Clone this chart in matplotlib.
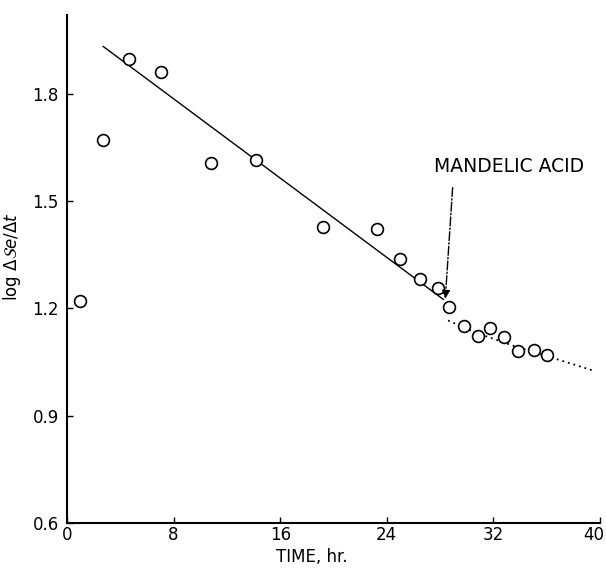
import matplotlib
matplotlib.use('Agg')
import matplotlib.pyplot as plt
import matplotlib.transforms as mtransforms

# data
time_hr = [0.97, 2.67, 4.62, 7.09, 10.84, 14.16, 19.23, 23.27, 24.97, 26.52,
           27.81, 28.69, 29.76, 30.81, 31.76, 32.79, 33.86, 35.03, 36.05]
log_rate = [1.22, 1.671, 1.896, 1.860, 1.605, 1.615, 1.428, 1.421, 1.339, 1.281,
            1.256, 1.203, 1.152, 1.122, 1.146, 1.120, 1.081, 1.084, 1.071]

fit_t = [2.72, 28.24]
fit_y = [1.932, 1.225]

tail_t = [28.6, 30.75, 34.0, 36.5, 39.4]
tail_y = [1.166, 1.131, 1.089, 1.061, 1.027]

arrow_start = (28.94, 1.5375)
arrow_tip = (28.39, 1.227)
label_pos = (33.15, 1.596)

xticks = [0, 8, 16, 24, 32, 40]
yticks = [0.6, 0.9, 1.2, 1.5, 1.8]

fig = plt.figure(figsize=(6.06, 5.69), dpi=100)
ax = fig.add_axes([67/606, 46/569, 533/606, 508/569])

ax.plot(fit_t, fit_y, color='k', lw=1.0)
ax.plot(tail_t, tail_y, color='k', lw=1.3, ls=(0, (1, 2.2)))
ax.plot(time_hr, log_rate, 'o', mfc='white', mec='k', ms=8.5, mew=1.2, zorder=3)

ax.annotate('', xy=arrow_tip, xytext=arrow_start,
            arrowprops=dict(arrowstyle='-|>', ls='-.', color='k', lw=1.0,
                            mutation_scale=12, shrinkA=0, shrinkB=0))
ax.text(label_pos[0], label_pos[1], 'MANDELIC ACID', ha='center', va='center',
        fontsize=13.5, color='k')

ax.set_xlim(0, 40)
ax.set_ylim(0.6, 2.02)
ax.set_xticks(xticks)
ax.set_yticks(yticks)
ax.set_yticklabels(['%.1f' % v for v in yticks])
ax.tick_params(direction='in', length=4, width=1, labelsize=12)
ax.tick_params(axis='x', pad=2)
ax.tick_params(axis='y', pad=6)

# last x label sits a little inside the axis end, as in the original
last = ax.get_xticklabels()[-1]
last.set_transform(last.get_transform() +
                   mtransforms.ScaledTranslation(-6/100, 0, fig.dpi_scale_trans))

for s in ['top', 'right']:
    ax.spines[s].set_visible(False)
for s in ['left', 'bottom']:
    ax.spines[s].set_linewidth(1.5)

ax.set_xlabel('TIME, hr.', fontsize=12)
ax.xaxis.set_label_coords((312 - 67) / 533, -0.05)
ax.set_ylabel(r'log $\Delta\mathcal{S}e/\Delta t$', fontsize=12)
ax.yaxis.set_label_coords(-0.082, 0.524)

fig.savefig('out.png', dpi=100)
